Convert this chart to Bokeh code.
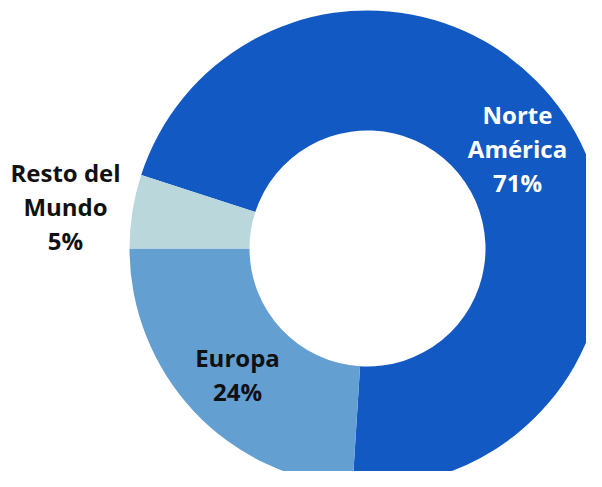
import numpy as np
from bokeh.plotting import figure
from bokeh.models import Range1d, ColumnDataSource
from bokeh.core.properties import value
from bokeh.embed import file_html
from bokeh.resources import INLINE

# ---- data ----
regions = ["Norte\nAmérica", "Europa", "Resto del\nMundo"]
shares = [71, 24, 5]
pct_labels = ["71%", "24%", "5%"]

# ---- style ----
colors = ["#1259C3", "#639FD1", "#BAD8DC"]
text_colors = ["#FFFFFF", "#111111", "#111111"]
FONT = "Open Sans"
FONT_SIZE = "24px"
LINE_STEP = 34

W, H = 602, 487
PW, PH = 586, 471
p = figure(width=PW, height=PH,
           x_range=Range1d(0, PW), y_range=Range1d(H - PH, H),
           output_backend="svg", toolbar_location=None, min_border=0,
           x_axis_location=None, y_axis_location=None)
p.grid.visible = False
p.outline_line_color = None
p.background_fill_color = "white"
p.border_fill_color = "white"

# donut geometry (pixel units, y measured from bottom)
cx, cy = 367, H - 248
r_out, r_in = 238, 118
first_angle_cw = 288.0  # degrees clockwise from 12 o'clock

vals = np.array(shares, dtype=float)
fr = vals / vals.sum()
cum = np.concatenate([[0.0], np.cumsum(fr)])
start_cw = first_angle_cw + 360 * cum[:-1]
end_cw = first_angle_cw + 360 * cum[1:]
start = np.deg2rad(90 - start_cw)
end = np.deg2rad(90 - end_cw)

src = ColumnDataSource(dict(start=start, end=end, color=colors))
p.annular_wedge(x=cx, y=cy, inner_radius=r_in, outer_radius=r_out,
                start_angle="start", end_angle="end", direction="clock",
                fill_color="color", line_color=None, source=src)

# labels: anchor = (centre x, vertical centre of first line) in screen px from top
anchors = [(517, 114), (237, 357), (65, 172)]
lx, ly, lt, lc = [], [], [], []
for i in range(len(regions)):
    lines = regions[i].split("\n") + [pct_labels[i]]
    ax, ay = anchors[i]
    for k, t in enumerate(lines):
        lx.append(ax)
        ly.append(H - (ay + k * LINE_STEP))
        lt.append(t)
        lc.append(text_colors[i])

tsrc = ColumnDataSource(dict(x=lx, y=ly, text=lt, color=lc))
p.text(x="x", y="y", text="text", source=tsrc, text_color="color",
       text_font=value(FONT), text_font_style="bold", text_font_size=FONT_SIZE,
       text_align="center", text_baseline="middle")

open("out.html", "w").write(file_html(p, INLINE))
